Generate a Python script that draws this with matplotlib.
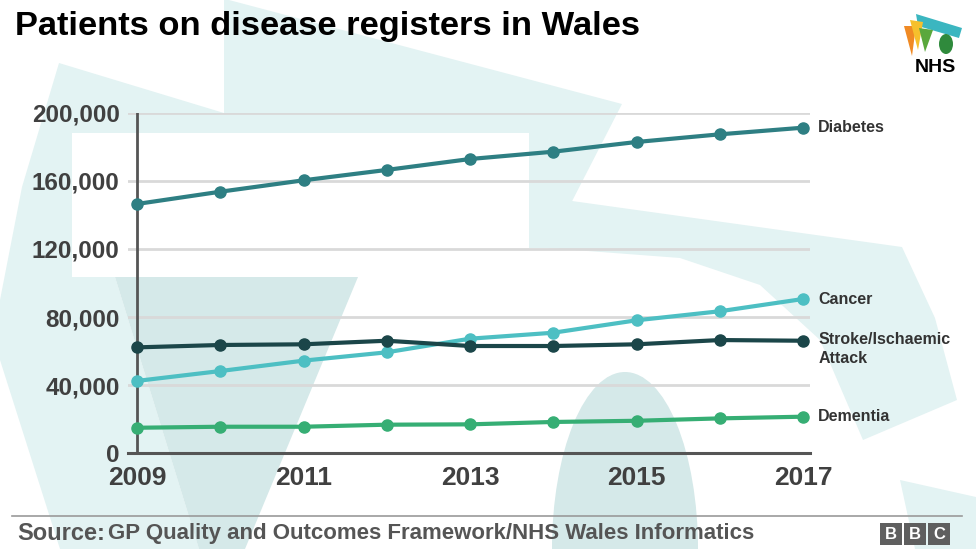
import matplotlib.pyplot as plt
from matplotlib.patches import Polygon, Ellipse, Rectangle

plt.rcParams['font.family'] = ['Liberation Sans', 'DejaVu Sans']

years = [2009, 2010, 2011, 2012, 2013, 2014, 2015, 2016, 2017]
diabetes = [146400, 153600, 160300, 166400, 172800, 177100, 182800, 187300, 191200]
cancer = [42500, 48300, 54400, 59300, 67300, 70800, 78100, 83400, 90600]
stroke = [62200, 63600, 64000, 66100, 63000, 63000, 64000, 66500, 66100]
dementia = [15000, 15600, 15600, 16800, 17000, 18400, 19100, 20500, 21500]

series = [
    ('Diabetes', diabetes, '#2e7f83'),
    ('Cancer', cancer, '#4dbfc3'),
    ('Stroke/Ischaemic\nAttack', stroke, '#1b4649'),
    ('Dementia', dementia, '#36ae74'),
]
yticks = [0, 40000, 80000, 120000, 160000, 200000]
xticks = [2009, 2011, 2013, 2015, 2017]

W, H = 976, 549
fig = plt.figure(figsize=(W / 100, H / 100), dpi=100)

# faint NHS70 watermark behind the chart, in pixel coords
bg = fig.add_axes([0, 0, 1, 1], zorder=0)
bg.set_xlim(0, W)
bg.set_ylim(H, 0)
bg.axis('off')
light = '#e3f3f3'
dark = '#d5e9e9'
shapes = [
    ([(224, 0), (229, 0), (622, 104), (548, 248), (529, 248), (529, 133), (224, 133)], light),
    ([(59, 63), (290, 133), (72, 133), (72, 277), (50, 277), (22, 187)], light),
    ([(22, 187), (72, 277), (115, 277), (199, 549), (60, 549), (0, 360), (0, 300)], light),
    ([(529, 195), (902, 247), (935, 318), (957, 400), (863, 440), (820, 340),
      (760, 285), (680, 258), (548, 248)], light),
    ([(900, 480), (976, 497), (976, 549), (915, 549)], light),
    ([(115, 277), (358, 277), (245, 549), (199, 549)], dark),
]
for pts, c in shapes:
    bg.add_patch(Polygon(pts, closed=True, facecolor=c, edgecolor='none'))
bg.add_patch(Ellipse((625, 549), 146, 354, facecolor=dark, edgecolor='none'))

# NHS 70 logo (rough)
bg.add_patch(Polygon([(916, 14), (962, 28), (959, 38), (918, 26)], facecolor='#3bb6c0', edgecolor='none'))
bg.add_patch(Polygon([(904, 26), (916, 26), (912, 56)], facecolor='#f08a24', edgecolor='none'))
bg.add_patch(Polygon([(910, 20), (923, 22), (918, 50)], facecolor='#f6c02c', edgecolor='none'))
bg.add_patch(Polygon([(919, 28), (933, 30), (925, 52)], facecolor='#5aa83c', edgecolor='none'))
bg.add_patch(Ellipse((946, 44), 14, 20, facecolor='#2f8a3c', edgecolor='none'))
bg.text(935, 67, 'NHS', fontsize=14, fontweight='bold', color='black', ha='center', va='center')

# footer
bg.plot([12, 962], [516, 516], color='#9a9a9a', lw=1.2)
bg.text(17, 533, 'Source:', fontsize=17, fontweight='bold', color='#555555', va='center')
bg.text(108, 534, 'GP Quality and Outcomes Framework/NHS Wales Informatics',
        fontsize=16, fontweight='bold', color='#555555', va='center')
for x0, letter in zip([880, 904, 928], 'BBC'):
    bg.add_patch(Rectangle((x0, 523), 22, 22, facecolor='#5f5f5f', edgecolor='none'))
    bg.text(x0 + 11, 534.5, letter, fontsize=12, fontweight='bold', color='white', ha='center', va='center')

# title
bg.text(15, 27, 'Patients on disease registers in Wales', fontsize=24.8, fontweight='bold',
        color='black', va='center')

# main chart
ax = fig.add_axes([128 / W, 1 - 453.3 / H, (810 - 128) / W, (453.3 - 112.7) / H], zorder=1)
ax.set_facecolor('none')
ax.set_xlim(2009 - 9 / 83.25, 2017 + 7 / 83.25)
ax.set_ylim(0, 200000)

for y in yticks[1:]:
    ax.axhline(y, color='#d9d9d9', lw=2, zorder=1)
ax.axvline(2009, ymin=0, ymax=1, color='#555555', lw=2, zorder=2)

for name, vals, col in series:
    ax.plot(years, vals, color=col, lw=3, marker='o', ms=8, zorder=3, clip_on=False)
    ax.annotate(name, (years[-1], vals[-1]), xytext=(11, -6 if '\n' in name else 0),
                textcoords='offset points', fontsize=11.5, fontweight='bold', color='#333333',
                ha='left', va='center', linespacing=1.3, annotation_clip=False)

for s in ['top', 'right', 'left']:
    ax.spines[s].set_visible(False)
ax.spines['bottom'].set_color('#555555')
ax.spines['bottom'].set_linewidth(2.2)

ax.set_yticks(yticks)
ax.set_yticklabels([f'{v:,}' for v in yticks])
ax.set_xticks(xticks)
ax.set_xticklabels([str(v) for v in xticks])
ax.tick_params(axis='y', length=0, pad=6, labelsize=17.5, labelcolor='#404040')
ax.tick_params(axis='x', length=0, pad=9, labelsize=19, labelcolor='#404040')
for lab in ax.get_xticklabels() + ax.get_yticklabels():
    lab.set_fontweight('bold')

fig.savefig('out.png', dpi=100)
